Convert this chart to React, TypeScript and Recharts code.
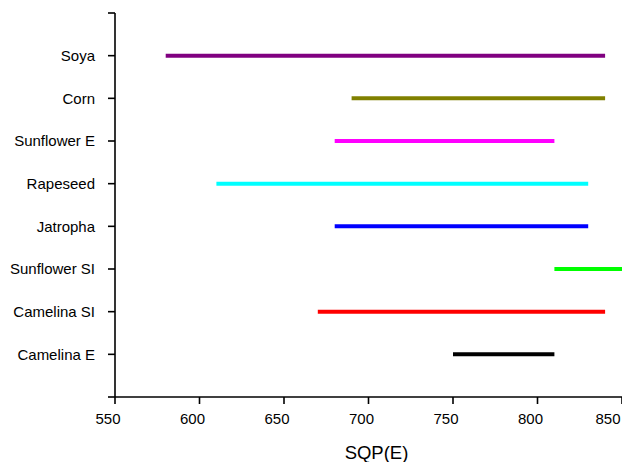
import React from 'react';
import { ScatterChart, Scatter, XAxis, YAxis, Label } from 'recharts';

// Oil crops, listed bottom to top
const crops = ['Camelina E', 'Camelina SI', 'Sunflower SI', 'Jatropha', 'Rapeseed', 'Sunflower E', 'Corn', 'Soya'];
const rangeStart = [750, 670, 810, 680, 610, 680, 690, 580];
const rangeEnd = [810, 840, 850, 830, 830, 810, 840, 840];
const colors = ['#000000', '#FF0000', '#00FF00', '#0000FF', '#00FFFF', '#FF00FF', '#808000', '#800080'];
const xTicks = [550, 600, 650, 700, 750, 800, 850];
const yTicks = [0, 1, 2, 3, 4, 5, 6, 7, 8, 9];

const FONT = '"Liberation Sans", Arial, sans-serif';

const XTick = (props: any) => {
  const { x, y, payload, index } = props;
  // keep the last label inside the canvas
  const shift = index === xTicks.length - 1 ? 10 : 7;
  return (
    <text x={x - shift} y={y} dy="0.71em" textAnchor="middle" fill="#000" fontSize={15} fontFamily={FONT}>
      {payload.value}
    </text>
  );
};

const noPoint = () => <g />;

export default function App() {
  return (
    <ScatterChart
      width={622}
      height={454}
      margin={{ top: 5, right: 8, bottom: 0, left: 0 }}
      style={{ fontFamily: FONT }}
    >
      <XAxis
        type="number"
        dataKey="x"
        domain={[550, 850]}
        ticks={xTicks}
        allowDataOverflow
        height={65}
        stroke="#000"
        strokeWidth={1.6}
        tickSize={7}
        tickMargin={9}
        tick={<XTick />}
      >
        <Label
          content={(p: any) => {
            const vb = p.viewBox;
            return (
              <text
                x={vb.x + vb.width / 2 + 8}
                y={vb.y + 62}
                textAnchor="middle"
                fill="#000"
                fontSize={18.5}
                fontFamily={FONT}
              >
                SQP(E)
              </text>
            );
          }}
        />
      </XAxis>
      <YAxis
        type="number"
        dataKey="y"
        domain={[0, 9]}
        ticks={yTicks}
        width={107}
        stroke="#000"
        strokeWidth={1.6}
        tickSize={7}
        tickMargin={13}
        tick={{ fill: '#000', fontSize: 15, fontFamily: FONT }}
        tickFormatter={(v: number) => (v >= 1 && v <= crops.length ? crops[v - 1] : '')}
      />
      {crops.map((name, i) => (
        <Scatter
          key={name}
          name={name}
          data={[
            { x: rangeStart[i], y: i + 1 },
            { x: rangeEnd[i], y: i + 1 },
          ]}
          line={{ stroke: colors[i], strokeWidth: 4 }}
          fill={colors[i]}
          shape={noPoint}
          isAnimationActive={false}
        />
      ))}
    </ScatterChart>
  );
}
